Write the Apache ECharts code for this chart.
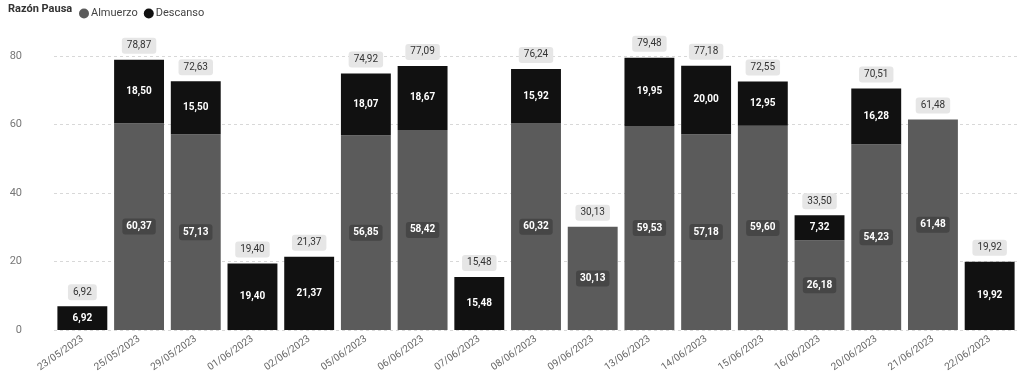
<!DOCTYPE html>
<html>
<head>
<meta charset="utf-8">
<script src="https://cdn.jsdelivr.net/npm/echarts@6/dist/echarts.min.js"></script>
<style>
html,body{margin:0;padding:0;background:#fff;}
#chart{width:1018px;height:380px;}
</style>
</head>
<body>
<div id="chart"></div>
<script>
// Fechas de las pausas
const categories = ['23/05/2023','25/05/2023','29/05/2023','01/06/2023','02/06/2023','05/06/2023','06/06/2023','07/06/2023','08/06/2023','09/06/2023','13/06/2023','14/06/2023','15/06/2023','16/06/2023','20/06/2023','21/06/2023','22/06/2023'];
// Minutos por razón de pausa
const almuerzo = [null, 60.37, 57.13, null, null, 56.85, 58.42, null, 60.32, 30.13, 59.53, 57.18, 59.60, 26.18, 54.23, 61.48, null];
const descanso = [6.92, 18.50, 15.50, 19.40, 21.37, 18.07, 18.67, 15.48, 15.92, null, 19.95, 20.00, 12.95, 7.32, 16.28, null, 19.92];
// Total por fecha
const totales = [6.92, 78.87, 72.63, 19.40, 21.37, 74.92, 77.09, 15.48, 76.24, 30.13, 79.48, 77.18, 72.55, 33.50, 70.51, 61.48, 19.92];
const yTicks = [0, 20, 40, 60, 80];

const fmt = v => v.toFixed(2).replace('.', ',');
const font = 'Roboto, "DejaVu Sans", sans-serif';

const chart = echarts.init(document.getElementById('chart'));
chart.setOption({
  animation: false,
  textStyle: { fontFamily: font },
  graphic: [{
    type: 'text', left: 8, top: 4,
    style: { text: 'Razón Pausa', fontSize: 11, fontWeight: 'bold', fill: '#333', fontFamily: font }
  }],
  legend: {
    left: 74, top: 3,
    icon: 'circle', itemWidth: 10, itemHeight: 10, itemGap: 6,
    textStyle: { fontSize: 11, color: '#444', padding: [0, 0, 0, -3] },
    data: ['Almuerzo', 'Descanso']
  },
  grid: { left: 54, top: 56, bottom: 50, width: 968, containLabel: false },
  xAxis: {
    type: 'category', data: categories,
    axisLine: { show: false }, axisTick: { show: false },
    axisLabel: { rotate: 35, fontSize: 10, color: '#666', margin: 8, interval: 0 }
  },
  yAxis: {
    type: 'value', min: 0, max: yTicks[yTicks.length - 1], interval: 20,
    axisLabel: { fontSize: 11, color: '#777', margin: 32 },
    splitLine: { lineStyle: { color: '#d8d8d8', type: [3, 3] } }
  },
  series: [
    {
      name: 'Almuerzo', type: 'bar', stack: 'p', data: almuerzo,
      barCategoryGap: '12%',
      itemStyle: { color: '#5b5b5b' },
      label: {
        show: true, position: 'inside', formatter: p => fmt(p.value),
        color: '#fff', fontSize: 10, fontWeight: 'bold',
        backgroundColor: '#464646', borderRadius: 3, padding: [3, 4]
      }
    },
    {
      name: 'Descanso', type: 'bar', stack: 'p', data: descanso,
      itemStyle: { color: '#111' },
      label: {
        show: true, position: 'inside', formatter: p => fmt(p.value),
        color: '#fff', fontSize: 10, fontWeight: 'bold'
      }
    },
    {
      name: 'Total', type: 'bar', stack: 'p', data: totales.map(() => 0),
      itemStyle: { color: 'transparent' },
      label: {
        show: true, position: 'top', distance: 6,
        formatter: p => fmt(totales[p.dataIndex]),
        color: '#333', fontSize: 10,
        backgroundColor: '#e6e6e6', borderRadius: 3, padding: [3, 5]
      },
      tooltip: { show: false }
    }
  ]
});
</script>
</body>
</html>
